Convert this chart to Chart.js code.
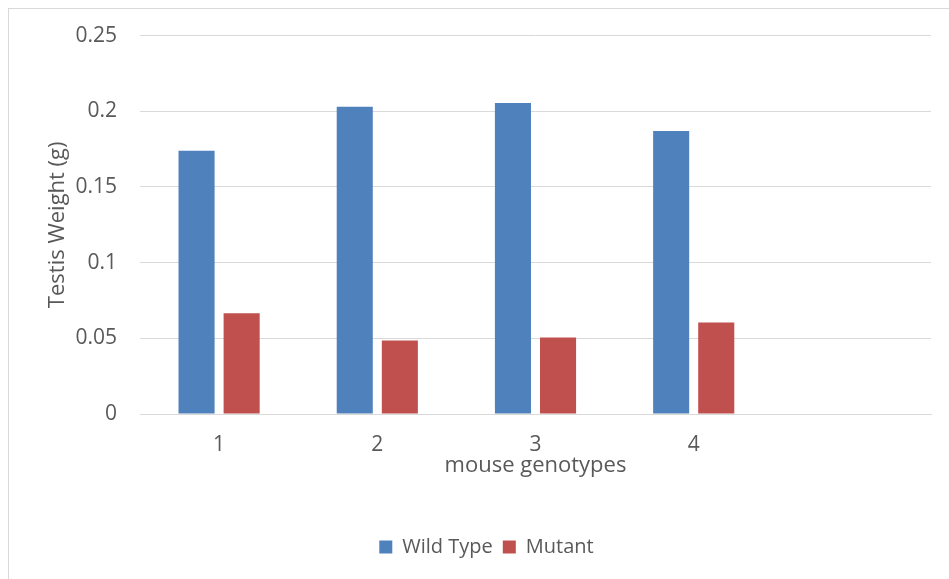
<!DOCTYPE html>
<html>
<head>
<meta charset="utf-8">
<script src="https://cdn.jsdelivr.net/npm/chart.js@4"></script>
<style>
  html, body { margin: 0; padding: 0; background: #fff; overflow: hidden; }
  #frame { position: absolute; left: 8px; top: 8px; width: 1000px; height: 1000px; border: 1px solid #d9d9d9; }
  #wrap { position: absolute; left: 0; top: 0; width: 949px; height: 579px; }
</style>
</head>
<body>
<div id="frame"></div>
<div id="wrap"><canvas id="chart"></canvas></div>
<script>
const categories = ['1', '2', '3', '4', ''];
const wildType = [0.174, 0.203, 0.2055, 0.187, null];
const mutant = [0.0665, 0.0485, 0.0505, 0.0605, null];
const yTicks = [0, 0.05, 0.1, 0.15, 0.2, 0.25];
const yTickLabels = ['0', '0.05', '0.1', '0.15', '0.2', '0.25'];

const FONT = 'Open Sans';
const GREY = '#595959';

Chart.defaults.font.family = FONT;
Chart.defaults.color = GREY;

// legend sits a little right of the canvas centre in the original
const legendShift = {
  id: 'legendShift',
  afterLayout(chart) {
    chart.legend.left += 21;
    chart.legend.right += 21;
  }
};

new Chart(document.getElementById('chart'), {
  type: 'bar',
  data: {
    labels: categories,
    datasets: [{
      label: 'Wild Type',
      data: wildType,
      backgroundColor: '#4f81bd',
      categoryPercentage: 0.57,
      barPercentage: 0.8
    }, {
      label: 'Mutant',
      data: mutant,
      backgroundColor: '#c0504d',
      categoryPercentage: 0.57,
      barPercentage: 0.8
    }]
  },
  plugins: [legendShift],
  options: {
    responsive: true,
    maintainAspectRatio: false,
    animation: false,
    layout: { padding: { top: 35, right: 18, bottom: 12, left: 0 } },
    plugins: {
      tooltip: { enabled: false },
      legend: {
        position: 'bottom',
        labels: { boxWidth: 13, boxHeight: 13, padding: 10, font: { size: 20 }, color: GREY }
      }
    },
    scales: {
      x: {
        grid: { display: false, drawTicks: false },
        border: { display: true, color: '#d9d9d9', width: 1 },
        ticks: { padding: 18, font: { size: 21 }, color: GREY },
        title: { display: true, text: 'mouse genotypes', font: { size: 22 }, color: GREY, padding: { top: 0, bottom: 48 } },
        afterFit: s => { s.height = 113; }
      },
      y: {
        min: 0,
        max: 0.25,
        grid: { color: '#d9d9d9', drawTicks: false },
        border: { display: false },
        afterBuildTicks: s => { s.ticks = yTicks.map(v => ({ value: v })); },
        ticks: {
          padding: 23,
          font: { size: 21 },
          color: GREY,
          callback: v => yTickLabels[yTicks.indexOf(v)]
        },
        title: { display: true, text: 'Testis Weight (g)', font: { size: 22 }, color: GREY, padding: { top: 45, bottom: 0 } },
        afterFit: s => { s.width = 140; }
      }
    }
  }
});
</script>
</body>
</html>
